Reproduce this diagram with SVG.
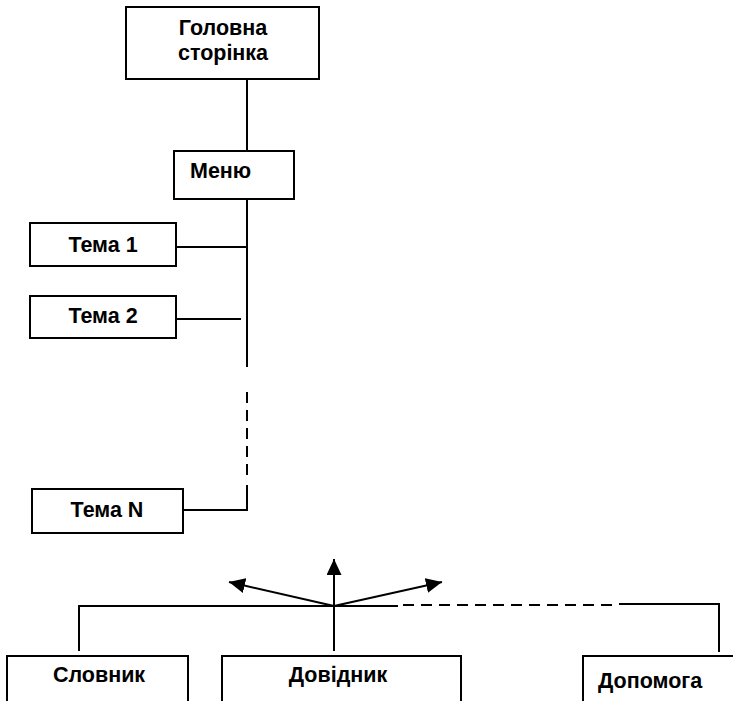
<svg xmlns="http://www.w3.org/2000/svg" width="733" height="701" viewBox="0 0 733 701">
<defs>
<style>
.box{fill:#fff;stroke:#000;stroke-width:2}
.ln{fill:none;stroke:#000;stroke-width:2}
.dash{fill:none;stroke:#000;stroke-width:2;stroke-dasharray:11 7}
text{font-family:"Liberation Sans",Arial,sans-serif;font-weight:bold;font-size:21.5px;fill:#000}
.c{text-anchor:middle}
</style>
<marker id="ah" markerUnits="userSpaceOnUse" markerWidth="18" markerHeight="16" refX="16" refY="7.5" orient="auto">
<path d="M0,0 L16,7.5 L0,15 Z" fill="#000"/>
</marker>
</defs>
<rect width="733" height="701" fill="#fff"/>
<g id="connectors">
<path class="ln" d="M247,79 V151"/>
<path class="ln" d="M247,199 V367"/>
<path class="dash" d="M247,392 V480"/>
<path class="ln" d="M247,485 V510 H180"/>
<path class="ln" d="M176,247 H247"/>
<path class="ln" d="M176,319 H241"/>
<path class="ln" d="M79,651 V606 H398"/>
<path class="dash" d="M403,605 H613"/>
<path class="ln" d="M619,604 H719 V652"/>
<path class="ln" d="M334,651 V606"/>
<path class="ln" d="M334,606 V559" marker-end="url(#ah)"/>
<path class="ln" d="M334,606 L229,582" marker-end="url(#ah)"/>
<path class="ln" d="M334,606 L442,582" marker-end="url(#ah)"/>
</g>
<g id="home"><rect class="box" x="126" y="7" width="193" height="72"/><text class="c" x="223" y="35">Головна</text><text class="c" x="223" y="60">сторінка</text></g>
<g id="menu"><rect class="box" x="174" y="151" width="120" height="48"/><text x="190" y="178">Меню</text></g>
<g id="tema1"><rect class="box" x="30" y="223" width="146" height="43"/><text class="c" x="103" y="252">Тема 1</text></g>
<g id="tema2"><rect class="box" x="30" y="296" width="146" height="42"/><text class="c" x="103" y="323">Тема 2</text></g>
<g id="temaN"><rect class="box" x="32" y="489" width="151" height="44"/><text class="c" x="107" y="517">Тема N</text></g>
<g id="slovnyk"><rect class="box" x="7" y="656" width="181" height="60"/><text class="c" x="99" y="682">Словник</text></g>
<g id="dovidnyk"><rect class="box" x="222" y="656" width="239" height="60"/><text class="c" x="338" y="682">Довідник</text></g>
<g id="dopomoga"><rect class="box" x="583" y="656" width="160" height="60"/><text x="598" y="688">Допомога</text></g>
</svg>
